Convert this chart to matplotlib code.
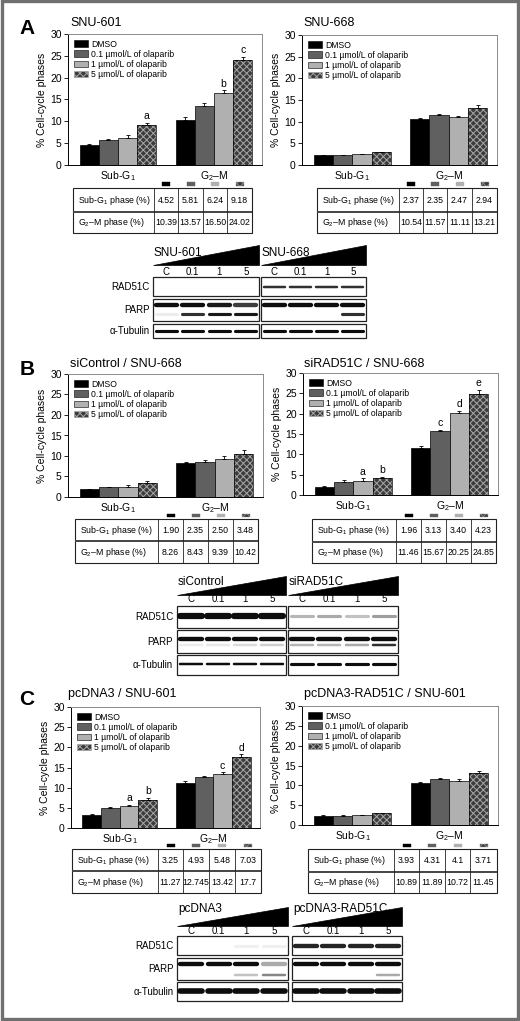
import matplotlib
matplotlib.use('Agg')
import matplotlib.pyplot as plt
import numpy as np
from matplotlib.patches import Rectangle, Polygon

plt.rcParams['font.family'] = ['Liberation Sans', 'DejaVu Sans']
plt.rcParams['mathtext.fontset'] = 'custom'
plt.rcParams['mathtext.rm'] = 'Liberation Sans'
plt.rcParams['mathtext.it'] = 'Liberation Sans:italic'
plt.rcParams['mathtext.default'] = 'regular'
plt.rcParams['hatch.linewidth'] = 0.7

W, H = 520, 1021

# ---------------- data ----------------
categories = ['Sub-G$_1$', 'G$_2$\u2013M']
treatments = ['DMSO', '0.1 \u00b5mol/L of olaparib', '1 \u00b5mol/L of olaparib', '5 \u00b5mol/L of olaparib']
row_labels = ['Sub-G$_1$ phase (%)', 'G$_2$\u2013M phase (%)']
lane_labels = ['C', '0.1', '1', '5']
blot_rows = ['RAD51C', 'PARP', '\u03b1-Tubulin']

# Panel A left: SNU-601
a1_subg1 = [4.52, 5.81, 6.24, 9.18]
a1_g2m = [10.39, 13.57, 16.50, 24.02]
a1_subg1_err = [0.2, 0.1, 0.7, 0.4]
a1_g2m_err = [0.7, 0.6, 0.6, 0.8]
a1_letters = [None, None, None, 'a', None, None, 'b', 'c']
a1_tab_subg1 = ['4.52', '5.81', '6.24', '9.18']
a1_tab_g2m = ['10.39', '13.57', '16.50', '24.02']

# Panel A right: SNU-668
a2_subg1 = [2.37, 2.35, 2.47, 2.94]
a2_g2m = [10.54, 11.57, 11.11, 13.21]
a2_subg1_err = [0.05, 0.05, 0.1, 0.05]
a2_g2m_err = [0.2, 0.2, 0.3, 0.6]
a2_letters = [None] * 8
a2_tab_subg1 = ['2.37', '2.35', '2.47', '2.94']
a2_tab_g2m = ['10.54', '11.57', '11.11', '13.21']

# Panel B left: siControl / SNU-668
b1_subg1 = [1.90, 2.35, 2.50, 3.48]
b1_g2m = [8.26, 8.43, 9.39, 10.42]
b1_subg1_err = [0.1, 0.2, 0.5, 0.5]
b1_g2m_err = [0.3, 0.5, 0.5, 1.0]
b1_letters = [None] * 8
b1_tab_subg1 = ['1.90', '2.35', '2.50', '3.48']
b1_tab_g2m = ['8.26', '8.43', '9.39', '10.42']

# Panel B right: siRAD51C / SNU-668
b2_subg1 = [1.96, 3.13, 3.40, 4.23]
b2_g2m = [11.46, 15.67, 20.25, 24.85]
b2_subg1_err = [0.2, 0.5, 0.7, 0.3]
b2_g2m_err = [0.6, 0.3, 0.4, 1.0]
b2_letters = [None, None, 'a', 'b', None, 'c', 'd', 'e']
b2_tab_subg1 = ['1.96', '3.13', '3.40', '4.23']
b2_tab_g2m = ['11.46', '15.67', '20.25', '24.85']

# Panel C left: pcDNA3 / SNU-601
c1_subg1 = [3.25, 4.93, 5.48, 7.03]
c1_g2m = [11.27, 12.745, 13.42, 17.7]
c1_subg1_err = [0.15, 0.2, 0.2, 0.4]
c1_g2m_err = [0.3, 0.2, 0.4, 0.6]
c1_letters = [None, None, 'a', 'b', None, None, 'c', 'd']
c1_tab_subg1 = ['3.25', '4.93', '5.48', '7.03']
c1_tab_g2m = ['11.27', '12.745', '13.42', '17.7']

# Panel C right: pcDNA3-RAD51C / SNU-601 (bars as drawn in the figure)
c2_subg1 = [2.37, 2.35, 2.47, 2.94]
c2_g2m = [10.54, 11.57, 11.11, 13.21]
c2_subg1_err = [0.05, 0.1, 0.05, 0.1]
c2_g2m_err = [0.2, 0.3, 0.4, 0.3]
c2_letters = [None] * 8
c2_tab_subg1 = ['3.93', '4.31', '4.1', '3.71']
c2_tab_g2m = ['10.89', '11.89', '10.72', '11.45']

# Western blot band intensities (per lane C, 0.1, 1, 5)
a_l_rad51c = [0, 0, 0, 0]
a_l_parp = [1, 1, 0.95, 0.8]
a_l_cparp = [0.08, 0.85, 0.95, 0.95]
a_l_tub = [1, 1, 1, 1]
a_r_rad51c = [0.85, 0.85, 0.85, 0.85]
a_r_parp = [1, 1, 1, 1]
a_r_cparp = [0, 0, 0, 0.85]
a_r_tub = [1, 1, 1, 1]

b_l_rad51c = [1, 1, 1, 1]
b_l_parp = [1, 1, 1, 1]
b_l_cparp = [0.08, 0.1, 0.15, 0.2]
b_l_tub = [1, 1, 1, 1]
b_r_rad51c = [0.3, 0.35, 0.25, 0.4]
b_r_parp = [1, 1, 1, 1]
b_r_cparp = [0.3, 0.3, 0.35, 0.85]
b_r_tub = [1, 1, 1, 1]

c_l_rad51c = [0, 0, 0.06, 0.06]
c_l_parp = [1, 1, 1, 0.35]
c_l_cparp = [0, 0, 0.25, 0.5]
c_l_tub = [1, 1, 1, 1]
c_r_rad51c = [0.9, 0.9, 0.9, 0.9]
c_r_parp = [1, 1, 1, 1]
c_r_cparp = [0, 0, 0, 0.35]
c_r_tub = [1, 1, 1, 1]

colors = ['#000000', '#606060', '#b0b0b0', '#3c3c3c']
hatches = [None, None, None, 'xxxxx']

# ---------------- figure ----------------
fig = plt.figure(figsize=(W / 100, H / 100), dpi=100)


def ax_px(x0, y0, x1, y1):
    return fig.add_axes([x0 / W, 1 - y1 / H, (x1 - x0) / W, (y1 - y0) / H])


def bar_panel(box, subg1, g2m, err_s, err_g, letters):
    ax = ax_px(*box)
    x = np.arange(len(categories))
    w = 0.2
    vals = np.array([subg1, g2m])
    errs = np.array([err_s, err_g])
    for i in range(4):
        xi = x + (i - 1.5) * w
        if hatches[i]:
            ax.bar(xi, vals[:, i], w, color=colors[i], edgecolor='#a8a8a8',
                   hatch=hatches[i], linewidth=0, zorder=2)
            ax.bar(xi, vals[:, i], w, fill=False, edgecolor='black', linewidth=0.5, zorder=3)
        else:
            ax.bar(xi, vals[:, i], w, color=colors[i], edgecolor='black', linewidth=0.5, zorder=2)
        ax.errorbar(xi, vals[:, i], yerr=[np.zeros(2), errs[:, i]], fmt='none',
                    ecolor='black', elinewidth=0.6, capsize=1.6, capthick=0.6, zorder=4)
        for k in range(2):
            lt = letters[k * 4 + i]
            if lt:
                ax.text(xi[k], vals[k, i] + errs[k, i] + 0.4, lt, ha='center', va='bottom',
                        fontsize=7.5)
    ax.set_xlim(-0.52, 1.5)
    ax.set_ylim(0, 30)
    ax.set_yticks(range(0, 31, 5))
    ax.set_xticks(x)
    ax.set_xticklabels(categories, fontsize=7.5)
    ax.tick_params(axis='x', length=0, pad=3)
    ax.tick_params(axis='y', labelsize=7.5, length=3, width=0.6, pad=1.5)
    ax.set_ylabel('% Cell-cycle phases', fontsize=7.5, labelpad=2)
    for s in ['left', 'bottom']:
        ax.spines[s].set_color('black')
        ax.spines[s].set_linewidth(0.7)
    for s in ['top', 'right']:
        ax.spines[s].set_color('#8a8a8a')
        ax.spines[s].set_linewidth(0.7)
    handles = []
    for i in range(4):
        handles.append(Rectangle((0, 0), 1, 1, facecolor=colors[i],
                                 edgecolor='#a8a8a8' if hatches[i] else 'black',
                                 hatch=hatches[i], linewidth=0.4))
    ax.legend(handles, treatments, loc='upper left', fontsize=6.2, frameon=False,
              handlelength=1.7, handleheight=0.75, labelspacing=0.12,
              borderaxespad=0.35, handletextpad=0.3, borderpad=0.3)
    return ax


bar_panel((68, 34, 262, 165), a1_subg1, a1_g2m, a1_subg1_err, a1_g2m_err, a1_letters)
bar_panel((302, 35, 497, 165), a2_subg1, a2_g2m, a2_subg1_err, a2_g2m_err, a2_letters)
bar_panel((68, 374, 263, 497), b1_subg1, b1_g2m, b1_subg1_err, b1_g2m_err, b1_letters)
bar_panel((303, 373, 498, 495), b2_subg1, b2_g2m, b2_subg1_err, b2_g2m_err, b2_letters)
bar_panel((71, 707, 260, 828), c1_subg1, c1_g2m, c1_subg1_err, c1_g2m_err, c1_letters)
bar_panel((302, 706, 498, 825), c2_subg1, c2_g2m, c2_subg1_err, c2_g2m_err, c2_letters)

# overlay in pixel coordinates
ov = fig.add_axes([0, 0, 1, 1])
ov.set_xlim(0, W)
ov.set_ylim(H, 0)
ov.axis('off')


def table(x0, x1, cols, ytop, ymid, ybot, tab_s, tab_g):
    edges = [x0] + cols + [x1]
    ov.add_patch(Rectangle((x0, ytop), x1 - x0, ybot - ytop, fill=False, ec='#222', lw=0.8))
    ov.plot([x0, x1], [ymid, ymid], color='#444', lw=1.4, solid_capstyle='butt')
    for c in cols:
        ov.plot([c, c], [ytop, ybot], color='#222', lw=0.6)
    for r, vals in enumerate([tab_s, tab_g]):
        yc = (ytop + ymid) / 2 if r == 0 else (ymid + ybot) / 2
        ov.text(x0 + 5, yc, row_labels[r], fontsize=6.3, va='center', ha='left')
        for j in range(4):
            ov.text((edges[j + 1] + edges[j + 2]) / 2, yc, vals[j], ha='center',
                    va='center', fontsize=6.3)
    for j in range(4):
        xc = (edges[j + 1] + edges[j + 2]) / 2
        ov.add_patch(Rectangle((xc - 4, ytop - 5.5), 8, 3.5, facecolor=colors[j],
                               edgecolor='#888' if hatches[j] else colors[j],
                               hatch=hatches[j], lw=0.3))


table(73, 252, [154, 178, 203, 227], 188, 212, 233, a1_tab_subg1, a1_tab_g2m)
table(317, 497, [399, 423, 447, 472], 188, 212, 233, a2_tab_subg1, a2_tab_g2m)
table(75, 258, [158, 183, 208, 233], 519, 541, 563, b1_tab_subg1, b1_tab_g2m)
table(312, 496, [396, 421, 446, 471], 519, 542, 563, b2_tab_subg1, b2_tab_g2m)
table(72, 261, [158, 183, 209, 235], 849, 871, 893, c1_tab_subg1, c1_tab_g2m)
table(308, 497, [394, 419, 445, 470], 849, 872, 893, c2_tab_subg1, c2_tab_g2m)


def draw_bands(x0, x1, yc, intens, thick):
    lw_ = (x1 - x0) / 4
    for j, I in enumerate(intens):
        if I <= 0:
            continue
        xc = x0 + lw_ * (j + 0.5)
        g = 1 - 0.95 * I
        ov.plot([xc - lw_ * 0.40, xc + lw_ * 0.40], [yc, yc], color=(g, g, g),
                lw=thick * 0.72 * 1.25, solid_capstyle='round')


def blot(title_l, title_r, xl, xr, tri, title_y, lane_y, rows, label_x, bands_l, bands_r):
    # tri: (ytop, ybot)
    for (x0, x1), t in zip([xl, xr], [title_l, title_r]):
        ov.add_patch(Polygon([(x0, tri[1]), (x1, tri[1]), (x1, tri[0])], closed=True,
                             facecolor='black', edgecolor='black', lw=0.5))
        ov.text(x0 + 1, title_y, t, fontsize=8.5, ha='left', va='center')
        for j, lab in enumerate(lane_labels):
            ov.text(x0 + (x1 - x0) / 4 * (j + 0.5), lane_y, lab, fontsize=7, ha='center', va='center')
        for (y0, y1) in rows:
            ov.add_patch(Rectangle((x0, y0), x1 - x0, y1 - y0, fill=False, ec='#222', lw=0.9))
    for k, (y0, y1) in enumerate(rows):
        ov.text(label_x, (y0 + y1) / 2, blot_rows[k], fontsize=7, ha='right', va='center')
    for (x0, x1), bands in zip([xl, xr], [bands_l, bands_r]):
        for (yc, intens, thick) in bands:
            draw_bands(x0, x1, yc, intens, thick)


blot('SNU-601', 'SNU-668', (153, 259), (261, 366), (245, 265), 253, 272,
     [(277, 296), (299, 321), (324, 338)], 150,
     [(287, a_l_rad51c, 2), (305, a_l_parp, 3.5), (314, a_l_cparp, 2.5), (331, a_l_tub, 2.5)],
     [(287, a_r_rad51c, 2), (305, a_r_parp, 3.5), (314, a_r_cparp, 2.5), (331, a_r_tub, 2.5)])

blot('siControl', 'siRAD51C', (177, 286), (288, 398), (576, 595), 582, 599,
     [(606, 628), (630, 653), (655, 675)], 173,
     [(616, b_l_rad51c, 5), (639, b_l_parp, 3.5), (645, b_l_cparp, 2), (664, b_l_tub, 2)],
     [(616, b_r_rad51c, 2.5), (639, b_r_parp, 3.5), (645, b_r_cparp, 2), (664, b_r_tub, 2.5)])

blot('pcDNA3', 'pcDNA3-RAD51C', (177, 288), (292, 402), (907, 926), 909, 931,
     [(936, 955), (958, 980), (982, 1001)], 174,
     [(946, c_l_rad51c, 2.5), (964, c_l_parp, 3.5), (975, c_l_cparp, 2), (991, c_l_tub, 4.5)],
     [(946, c_r_rad51c, 3.5), (964, c_r_parp, 3.5), (975, c_r_cparp, 2), (991, c_r_tub, 4.5)])

# titles and panel letters
for (x, y, t) in [(70, 23, 'SNU-601'), (303, 23, 'SNU-668'),
                  (70, 364, 'siControl / SNU-668'), (304, 364, 'siRAD51C / SNU-668'),
                  (68, 694, 'pcDNA3 / SNU-601'), (304, 694, 'pcDNA3-RAD51C / SNU-601')]:
    ov.text(x, y, t, fontsize=9, ha='left', va='center')
for (x, y, t) in [(27, 29, 'A'), (27, 369, 'B'), (27, 699, 'C')]:
    ov.text(x, y, t, fontsize=15, fontweight='bold', ha='center', va='center')

# outer frame
ov.add_patch(Rectangle((1.5, 1.5), W - 3.5, H - 3.5, fill=False, ec='#707070', lw=2.4))

fig.savefig('out.png', dpi=100)
